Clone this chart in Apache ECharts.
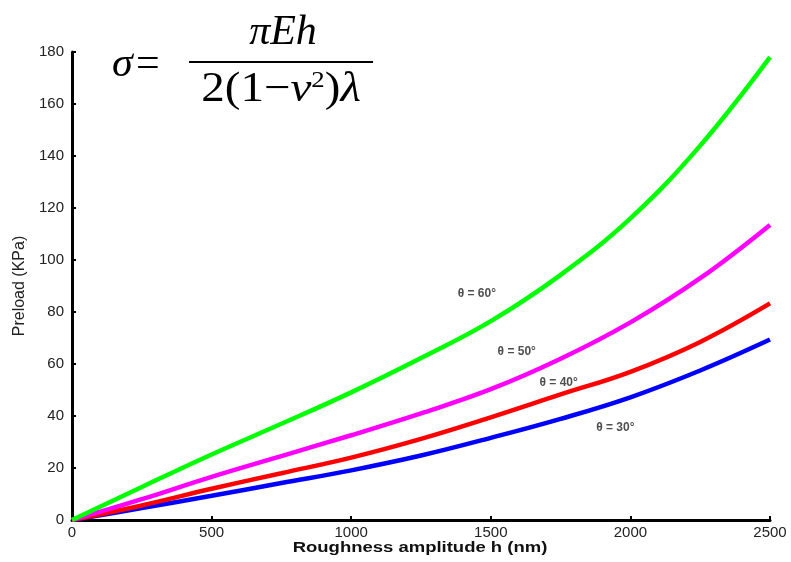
<!DOCTYPE html>
<html>
<head>
<meta charset="utf-8">
<script src="https://cdn.jsdelivr.net/npm/echarts@6/dist/echarts.min.js"></script>
<style>
  html, body { margin: 0; padding: 0; background: #fff; }
  #main { width: 791px; height: 562px; }
</style>
</head>
<body>
<div id="main"></div>
<script>
// roughness amplitude h (nm)
var hValues = [0, 250, 500, 750, 1000, 1250, 1500, 1750, 2000, 2250, 2500];
// preload (KPa) for each contact angle
var theta60 = [0, 12.7, 25.2, 37, 49.1, 62.3, 76.5, 94.3, 116, 144, 178];
var theta50 = [0, 8, 16.6, 24.6, 32.6, 41, 50.3, 62, 76, 93, 113.5];
var theta40 = [0, 5.6, 12, 18, 24, 31.2, 39.5, 48.3, 57, 68.5, 83.3];
var theta30 = [0, 4.6, 9.3, 14.2, 19.1, 24.8, 31.6, 38.9, 47.2, 57.5, 69.4];
var seriesNames = ['θ = 60°', 'θ = 50°', 'θ = 40°', 'θ = 30°'];
var seriesColors = ['#00ff00', '#ff00ff', '#ff0000', '#0000ff'];
// where the curve labels sit (h, preload)
var labelPos = [[1450, 87], [1593, 64.6], [1743, 52.8], [1946, 35.6]];

var myChart = echarts.init(document.getElementById('main'));

function pairs(ys) {
	return hValues.map(function(x, i) { return [x, ys[i]]; });
}

var curves = [theta60, theta50, theta40, theta30];
var series = curves.map(function(ys, i) {
	return {
		name: seriesNames[i],
		type: 'line',
		data: pairs(ys),
		smooth: 0.4,
		showSymbol: false,
		lineStyle: { color: seriesColors[i], width: 4.5 },
		itemStyle: { color: seriesColors[i] },
		z: 4 - i
	};
});

series.push({
	type: 'scatter',
	symbolSize: 0,
	data: labelPos.map(function(p, i) { return { name: seriesNames[i], value: p }; }),
	label: {
		show: true,
		position: 'inside',
		formatter: '{b}',
		fontSize: 12,
		fontWeight: 'bold',
		color: '#222',
		fontFamily: 'Liberation Sans'
	},
	silent: true
});

var serif = '"Liberation Serif"';

option = {
	backgroundColor: '#ffffff',
	animation: false,
	grid: {
		left: 72,
		right: 21,
		top: 52,
		bottom: 42
	},
	xAxis: {
		type: 'value',
		min: 0,
		max: 2500,
		interval: 500,
		axisLine: { lineStyle: { color: '#000', width: 3 } },
		axisTick: { inside: true, length: 4, lineStyle: { color: '#000', width: 2 } },
		axisLabel: {
			fontSize: 15, color: '#222', margin: 5, fontFamily: 'Liberation Sans',
			formatter: function(v) { return String(v); }
		},
		splitLine: { show: false }
	},
	yAxis: {
		type: 'value',
		min: 0,
		max: 180,
		interval: 20,
		name: 'Preload (KPa)',
		nameLocation: 'middle',
		nameGap: 44,
		nameTextStyle: {
			fontSize: 16,
			color: '#222',
			fontFamily: 'Liberation Sans'
		},
		axisLine: { show: true, lineStyle: { color: '#000', width: 3 } },
		axisTick: { show: true, inside: true, length: 4, lineStyle: { color: '#000', width: 2 } },
		axisLabel: { fontSize: 15, color: '#222', margin: 8, fontFamily: 'Liberation Sans' },
		splitLine: { show: false }
	},
	graphic: [
		{
			// x axis title, stretched like the original figure
			type: 'text',
			x: 420,
			y: 548,
			scaleX: 1.32,
			style: {
				text: 'Roughness amplitude h (nm)',
				font: 'bold 14px "Liberation Sans"',
				fill: '#111',
				align: 'center',
				verticalAlign: 'middle'
			}
		},
		{
			type: 'text',
			x: 112,
			y: 44,
			style: {
				text: 'σ',
				font: 'italic 42px ' + serif,
				fill: '#000'
			}
		},
		{
			type: 'text',
			x: 136,
			y: 44,
			style: {
				text: '=',
				font: '42px ' + serif,
				fill: '#000'
			}
		},
		{
			type: 'text',
			x: 283,
			y: 12,
			style: {
				text: 'πEh',
				font: 'italic 42px ' + serif,
				fill: '#000',
				align: 'center'
			}
		},
		{
			type: 'line',
			shape: { x1: 189, y1: 62, x2: 373, y2: 62 },
			style: { stroke: '#000', lineWidth: 2 }
		},
		{
			type: 'text',
			x: 281,
			y: 69,
			scaleX: 1.12,
			style: {
				text: '2(1−{i|ν}{s|2}){i|λ}',
				font: '42px ' + serif,
				fill: '#000',
				align: 'center',
				rich: {
					i: { font: 'italic 42px ' + serif },
					s: { font: '24px ' + serif, verticalAlign: 'top', padding: [0, 0, 16, 0] }
				}
			}
		}
	],
	series: series
};

myChart.setOption(option);
</script>
</body>
</html>
